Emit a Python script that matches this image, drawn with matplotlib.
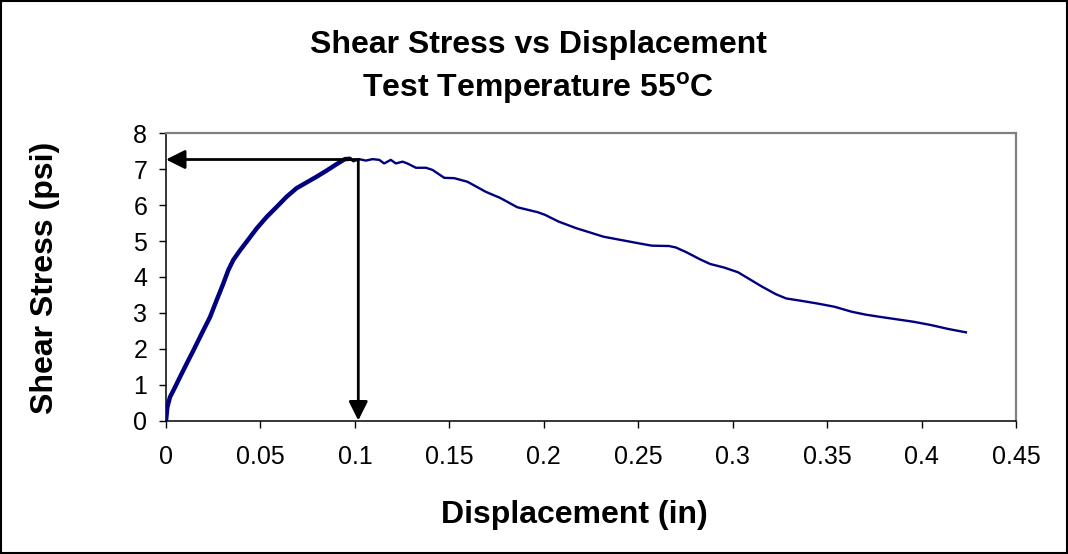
import matplotlib
matplotlib.use("Agg")
import matplotlib.pyplot as plt
from matplotlib.patches import Rectangle

plt.rcParams['font.family'] = ['Liberation Sans', 'DejaVu Sans']
plt.rcParams['mathtext.fontset'] = 'custom'
plt.rcParams['mathtext.rm'] = 'Liberation Sans'
plt.rcParams['mathtext.bf'] = 'Liberation Sans:bold'

# ---- data ----
loading_disp = [0.0, 0.0007, 0.0021, 0.0048, 0.0074, 0.0109, 0.0145, 0.0189,
                0.0233, 0.0268, 0.0303, 0.0330, 0.0356, 0.0392, 0.0427,
                0.0480, 0.0533, 0.0586, 0.0638, 0.0691, 0.0744, 0.0797,
                0.0850, 0.0903, 0.0947, 0.0974]
loading_stress = [0.0, 0.37, 0.65, 0.93, 1.21, 1.58, 1.95, 2.42,
                  2.88, 3.35, 3.81, 4.19, 4.47, 4.74, 4.98,
                  5.35, 5.67, 5.95, 6.23, 6.47, 6.63, 6.79,
                  6.96, 7.14, 7.28, 7.29]

post_disp = [0.0974, 0.0992, 0.1023, 0.1058, 0.1093, 0.1129, 0.1155, 0.1190,
             0.1217, 0.1252, 0.1278, 0.1323, 0.1376, 0.1411, 0.1473, 0.1526,
             0.1596, 0.1693, 0.1769, 0.1860, 0.1969, 0.2006, 0.2079, 0.2170,
             0.2243, 0.2316, 0.2407, 0.2498, 0.2572, 0.2663, 0.2699, 0.2754,
             0.2827, 0.2881, 0.2955, 0.3028, 0.3082, 0.3155, 0.3228, 0.3283,
             0.3356, 0.3447, 0.3538, 0.3630, 0.3703, 0.3776, 0.3867, 0.3958,
             0.4049, 0.4141, 0.4241]
post_stress = [7.29, 7.22, 7.28, 7.24, 7.28, 7.26, 7.16, 7.26,
               7.16, 7.21, 7.16, 7.04, 7.04, 6.98, 6.76, 6.75,
               6.65, 6.37, 6.20, 5.94, 5.80, 5.73, 5.54, 5.36,
               5.24, 5.12, 5.03, 4.94, 4.87, 4.86, 4.82, 4.69,
               4.49, 4.36, 4.26, 4.13, 3.96, 3.73, 3.52, 3.40,
               3.34, 3.26, 3.17, 3.03, 2.95, 2.89, 2.82, 2.75,
               2.66, 2.55, 2.45]

peak_disp = 0.1018
peak_stress = 7.27

x_ticks = [0, 0.05, 0.1, 0.15, 0.2, 0.25, 0.3, 0.35, 0.4, 0.45]
x_tick_labels = ['0', '0.05', '0.1', '0.15', '0.2', '0.25', '0.3', '0.35', '0.4', '0.45']
y_ticks = [0, 1, 2, 3, 4, 5, 6, 7, 8]

title_line1 = 'Shear Stress vs Displacement'
title_line2 = r'Test Temperature 55$^{\mathbf{o}}$C'
x_label = 'Displacement (in)'
y_label = 'Shear Stress (psi)'

# ---- figure ----
W, H = 1068, 554
fig = plt.figure(figsize=(W / 100, H / 100), dpi=100)
fig.patch.set_facecolor('white')

left, right = 166 / W, 1016 / W
bottom, top = 1 - 420.5 / H, 1 - 133.3 / H
ax = fig.add_axes([left, bottom, right - left, top - bottom])

line_color = '#000080'
ax.plot(post_disp, post_stress, color=line_color, lw=1.7, solid_joinstyle='round',
        solid_capstyle='butt', zorder=3)
ax.plot(loading_disp, loading_stress, color=line_color, lw=3.2, solid_joinstyle='round',
        solid_capstyle='round', zorder=3)

arrow_style = '-|>,head_length=0.8,head_width=0.4'
ax.annotate('', xy=(0, peak_stress), xytext=(peak_disp, peak_stress),
            arrowprops=dict(arrowstyle=arrow_style, color='black', lw=2,
                            mutation_scale=14.4, shrinkA=0, shrinkB=0),
            zorder=4, annotation_clip=False)
ax.annotate('', xy=(peak_disp, 0), xytext=(peak_disp, peak_stress),
            arrowprops=dict(arrowstyle=arrow_style, color='black', lw=2,
                            mutation_scale=14.4, shrinkA=0, shrinkB=0),
            zorder=4, annotation_clip=False)

ax.set_xlim(0, 0.45)
ax.set_ylim(0, 8)
ax.set_xticks(x_ticks)
ax.set_xticklabels(x_tick_labels)
ax.set_yticks(y_ticks)

for s in ['top', 'right']:
    ax.spines[s].set_color('#808080')
    ax.spines[s].set_linewidth(1.6)
for s in ['left', 'bottom']:
    ax.spines[s].set_color('black')
    ax.spines[s].set_linewidth(1.1)

ax.tick_params(axis='both', direction='out', length=5, width=1, color='black',
               labelsize=18)
ax.tick_params(axis='x', pad=13)
ax.tick_params(axis='y', pad=8.5)

# titles and axis labels
fig.text(538 / W, 1 - 53.3 / H, title_line1, ha='center', va='baseline',
         fontsize=23, fontweight='bold')
fig.text(538 / W, 1 - 96.7 / H, title_line2, ha='center', va='baseline',
         fontsize=23, fontweight='bold')
fig.text(574 / W, 1 - 523.3 / H, x_label, ha='center', va='baseline',
         fontsize=23, fontweight='bold')
fig.text(53.3 / W, 1 - 278.3 / H, y_label, ha='center', va='baseline',
         rotation=90, rotation_mode='anchor', fontsize=23, fontweight='bold')

# outer border
fig.patches.append(Rectangle((1 / W, 1 / H), 1 - 2 / W, 1 - 2 / H,
                             transform=fig.transFigure, fill=False,
                             edgecolor='black', linewidth=1.5, zorder=10))

fig.savefig('out.png', dpi=100)
